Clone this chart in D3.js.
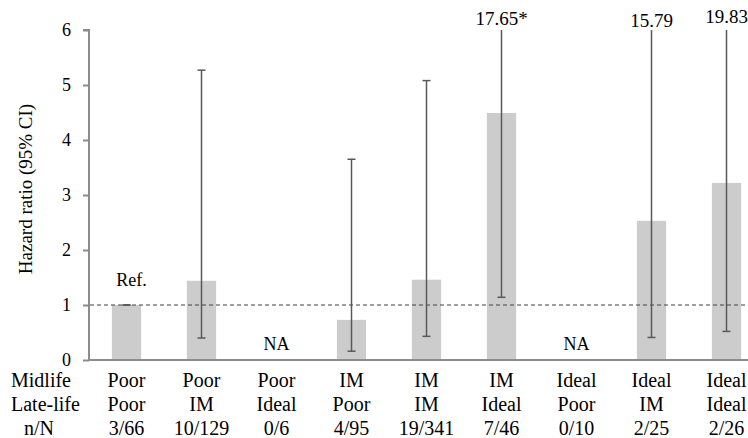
<!DOCTYPE html>
<html><head><meta charset="utf-8">
<script src="https://cdn.jsdelivr.net/npm/d3@7"></script>
</head><body style="margin:0;background:#fff">
<svg id="c" width="748" height="438" font-family="Liberation Serif" style="display:block;font-family:'Liberation Serif'"></svg>
<script>
const midlife = ["Poor","Poor","Poor","IM","IM","IM","Ideal","Ideal","Ideal"];
const latelife = ["Poor","IM","Ideal","Poor","IM","Ideal","Poor","IM","Ideal"];
const nN = ["3/66","10/129","0/6","4/95","19/341","7/46","0/10","2/25","2/26"];
const hr = [1.0, 1.44, null, 0.73, 1.46, 4.49, null, 2.53, 3.22];
const lower = [1.0, 0.40, null, 0.16, 0.43, 1.14, null, 0.41, 0.52];
const upper = [1.0, 5.27, null, 3.65, 5.08, 17.65, null, 15.79, 19.83];
const upperLabels = [null, null, null, null, null, "17.65*", null, "15.79", "19.83"];
const yTicks = [0,1,2,3,4,5,6];

const FONT = "Liberation Serif";
const svg = d3.select("#c");
const idx = d3.range(midlife.length);
const x = d3.scaleBand().domain(idx).range([89, 764]).paddingInner(0.61).paddingOuter(0.305);
const y = d3.scaleLinear().domain([0, 6]).range([360, 30]);
const cx = i => x(i) + x.bandwidth() / 2;

// bars
svg.selectAll("rect.bar").data(idx.filter(i => hr[i] != null)).join("rect")
  .attr("x", i => x(i)).attr("width", x.bandwidth())
  .attr("y", i => y(hr[i])).attr("height", i => y(0) - y(hr[i]))
  .attr("fill", "#cccccc");

// y axis
const yAxis = svg.append("g").attr("transform", "translate(89,0)")
  .call(d3.axisLeft(y).tickValues(yTicks).tickFormat(d3.format("d")).tickSize(6).tickPadding(12));
yAxis.attr("font-family", FONT).attr("font-size", 18);
yAxis.select(".domain").attr("stroke", "#8c8c8c").attr("stroke-width", 2).attr("d", `M-6,${y(6)}H0V${y(0)}`);
yAxis.selectAll(".tick line").attr("stroke", "#8c8c8c").attr("stroke-width", 2);
yAxis.selectAll(".tick text").attr("fill", "#000");

// x baseline
svg.append("line").attr("x1", 88).attr("x2", 748).attr("y1", y(0)).attr("y2", y(0))
  .attr("stroke", "#8c8c8c").attr("stroke-width", 2);

// reference dashed line
svg.append("line").attr("x1", 90).attr("x2", 748).attr("y1", y(1)).attr("y2", y(1))
  .attr("stroke", "#404040").attr("stroke-width", 1).attr("stroke-dasharray", "4,3");

// error bars
const eb = idx.filter(i => hr[i] != null);
const ymax = 6;
svg.selectAll("line.eb").data(eb).join("line")
  .attr("x1", cx).attr("x2", cx)
  .attr("y1", i => y(lower[i])).attr("y2", i => y(Math.min(upper[i], ymax)))
  .attr("stroke", "#595959").attr("stroke-width", 1.5);
svg.selectAll("line.capl").data(eb).join("line")
  .attr("x1", i => cx(i) - 4).attr("x2", i => cx(i) + 4)
  .attr("y1", i => y(lower[i])).attr("y2", i => y(lower[i]))
  .attr("stroke", "#595959").attr("stroke-width", 1.5);
svg.selectAll("line.capu").data(eb.filter(i => upper[i] <= ymax)).join("line")
  .attr("x1", i => cx(i) - 4).attr("x2", i => cx(i) + 4)
  .attr("y1", i => y(upper[i])).attr("y2", i => y(upper[i]))
  .attr("stroke", "#595959").attr("stroke-width", 1.5);

// upper labels for truncated CIs
const ulOff = {5: 25, 7: 26.5, 8: 23};
svg.selectAll("text.ul").data(idx.filter(i => upperLabels[i])).join("text")
  .attr("x", cx).attr("y", i => ulOff[i]).attr("text-anchor", "middle")
  .attr("font-size", 19).text(i => upperLabels[i]);

// Ref. and NA
svg.append("text").attr("x", cx(0) + 5).attr("y", y(1.35)).attr("text-anchor", "middle").attr("font-size", 18).text("Ref.");
svg.selectAll("text.na").data(idx.filter(i => hr[i] == null)).join("text")
  .attr("x", cx).attr("y", y(0.18)).attr("text-anchor", "middle").attr("font-size", 18).text("NA");

// y title
svg.append("text").attr("transform", `translate(32,189) rotate(-90)`)
  .attr("text-anchor", "middle").attr("font-size", 19).text("Hazard ratio (95% CI)");

// category table
const rows = [midlife, latelife, nN];
const rowY = [387, 411, 435];
rows.forEach((r, k) => {
  svg.selectAll(null).data(idx).join("text")
    .attr("x", cx).attr("y", rowY[k]).attr("text-anchor", "middle")
    .attr("font-size", 20).text(i => r[i]);
});
svg.append("text").attr("x", 11).attr("y", rowY[0]).attr("font-size", 20).text("Midlife");
svg.append("text").attr("x", 11).attr("y", rowY[1]).attr("font-size", 20).text("Late-life");
svg.append("text").attr("x", 39).attr("y", rowY[2]).attr("text-anchor", "middle").attr("font-size", 20).text("n/N");

svg.selectAll("text").attr("font-family", FONT).style("font-family", `"${FONT}"`).attr("fill", "#000");
</script></body></html>
